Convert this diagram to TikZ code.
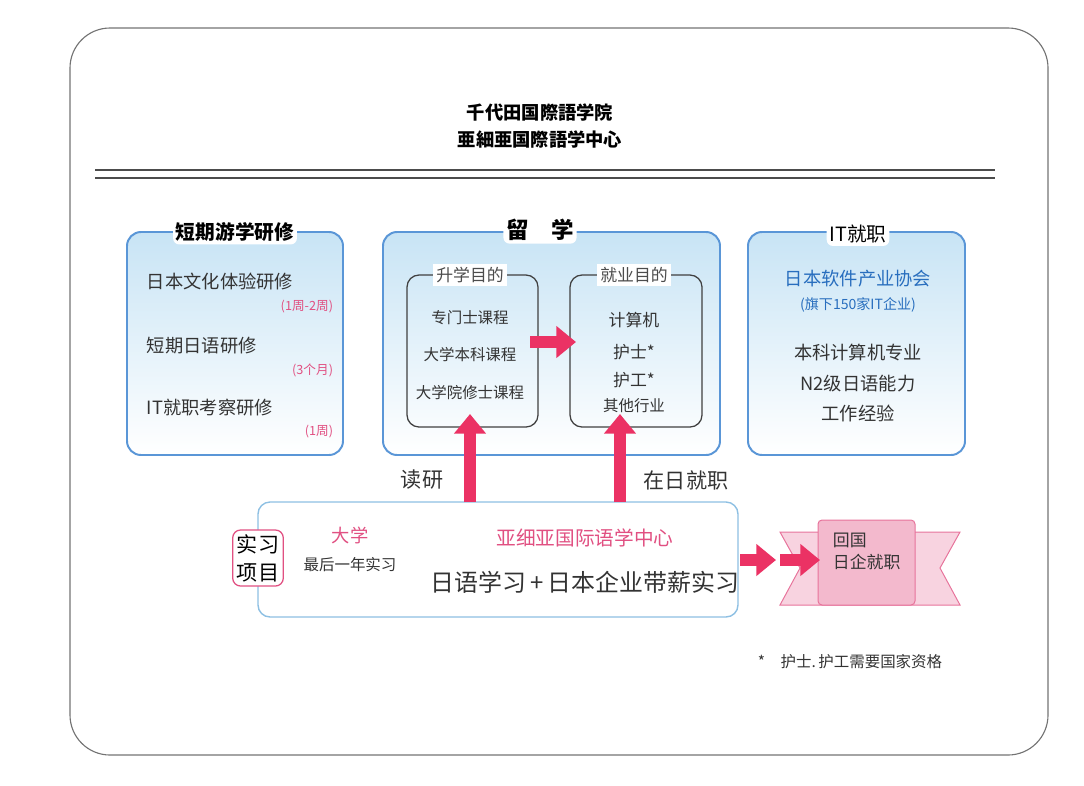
\documentclass[tikz,border=0pt]{standalone}
\usepackage{fontspec}
\setmainfont{Noto Sans CJK SC}
\newfontfamily\jp{Noto Sans CJK JP}
\usetikzlibrary{positioning,arrows.meta}
\definecolor{frameBlue}{RGB}{90,150,215}
\definecolor{fillBlue}{RGB}{200,228,245}
\definecolor{arrowPink}{RGB}{235,50,100}
\definecolor{textPink}{RGB}{225,80,130}
\definecolor{textBlue}{RGB}{40,110,190}
\tikzset{
  bigBox/.style = {draw=frameBlue, line width=1.4pt, rounded corners=.35cm, top color=fillBlue, bottom color=white, middle color=fillBlue!50},
  innerBox/.style = {draw=black!75, line width=.9pt, rounded corners=.3cm},
  boxTitle/.style = {fill=white, rounded corners=.15cm, inner sep=2pt, font=\fontsize{14}{16}\selectfont\bfseries},
  innerTitle/.style = {fill=white, inner sep=2pt, font=\fontsize{12}{14}\selectfont, text=black!70},
  item/.style = {font=\fontsize{13}{15}\selectfont, text=black!80},
  smallItem/.style = {font=\fontsize{11}{13}\selectfont, text=black!80},
  note/.style = {font=\fontsize{9}{11}\selectfont, text=textPink},
  fatArrow/.style = {draw=arrowPink, line width=9pt, -{Triangle[length=14pt, width=22pt]}}
}
\begin{document}
\begin{tikzpicture}[x=0.025cm, y=-0.025cm]
  \useasboundingbox (0,0) rectangle (1084,785);
  % frame and title
  \draw [black!55, rounded corners=1cm, line width=.8pt] (70,28) rectangle (1048,755);
  \node (title1) [font=\jp\fontsize{13}{15}\selectfont\bfseries] at (540,112) {千代田国際語学院};
  \node (title2) [font=\jp\fontsize{13}{15}\selectfont\bfseries] at (540,139) {亜細亜国際語学中心};
  \draw [black!70, line width=.8pt] (95,170) -- (995,170);
  \draw [black!70, line width=.8pt] (95,178) -- (995,178);

  % short term box
  \draw [bigBox] (127,232) rectangle (343,455);
  \node (shortTitle) [boxTitle] at (235,232) {短期游学研修};
  \node (short1) [item, anchor=west] at (142,282) {日本文化体验研修};
  \node (short1n) [note, anchor=east] at (338,307) {(1周-2周)};
  \node (short2) [item, anchor=west] at (142,346) {短期日语研修};
  \node (short2n) [note, anchor=east] at (338,370) {(3个月)};
  \node (short3) [item, anchor=west] at (142,408) {IT就职考察研修};
  \node (short3n) [note, anchor=east] at (338,432) {(1周)};

  % study box
  \draw [bigBox] (383,232) rectangle (720,455);
  \node (studyTitle) [boxTitle, font=\fontsize{16}{18}\selectfont\bfseries] at (540,230) {留\quad 学};
  \draw [innerBox] (407,275) rectangle (538,427);
  \node (academic) [innerTitle] at (470,275) {升学目的};
  \node (academic1) [smallItem] at (470,318) {专门士课程};
  \node (academic2) [smallItem] at (470,355) {大学本科课程};
  \node (academic3) [smallItem] at (470,393) {大学院修士课程};
  \draw [innerBox] (570,275) rectangle (702,427);
  \node (career) [innerTitle] at (634,275) {就业目的};
  \node (career1) [smallItem, font=\fontsize{12}{14}\selectfont] at (634,320) {计算机};
  \node (career2) [smallItem, font=\fontsize{12}{14}\selectfont] at (634,352) {护士*};
  \node (career3) [smallItem, font=\fontsize{12}{14}\selectfont] at (634,380) {护工*};
  \node (career4) [smallItem] at (634,406) {其他行业};
  \coordinate (midArrowA) at (530,342);
  \coordinate (midArrowB) at (576,342);
  \draw [fatArrow] (midArrowA) -- (midArrowB);

  % IT box
  \draw [bigBox] (748,232) rectangle (965,455);
  \node (itTitle) [boxTitle, font=\fontsize{14}{16}\selectfont] at (858,234) {IT就职};
  \node (it1) [item, text=textBlue] at (858,279) {日本软件产业协会};
  \node (it2) [smallItem, font=\fontsize{10}{12}\selectfont, text=textBlue] at (858,305) {(旗下150家IT企业)};
  \node (it3) [item] at (858,353) {本科计算机专业};
  \node (it4) [item] at (858,384) {N2级日语能力};
  \node (it5) [item] at (858,413) {工作经验};

  % training box
  \draw [draw=cyan!40!frameBlue!60, line width=1pt, rounded corners=.3cm, fill=white] (258,502) rectangle (738,617);
  \node (program) [draw=textPink, line width=.9pt, rounded corners=.2cm, fill=white, align=center, inner sep=3pt, font=\fontsize{15}{20}\selectfont] at (258,558) {实习\\项目};
  \node (uni) [font=\fontsize{13}{15}\selectfont, text=textPink] at (350,535) {大学};
  \node (uniNote) [smallItem] at (350,565) {最后一年实习};
  \node (center) [font=\fontsize{14}{16}\selectfont, text=textPink] at (585,538) {亚细亚国际语学中心};
  \node (centerNote) [font=\fontsize{17}{20}\selectfont, text=black!80] at (585,582) {日语学习\,+\,日本企业带薪实习};

  % up arrows
  \coordinate (upA) at (470,502);
  \coordinate (upAend) at (470,414);
  \coordinate (upB) at (620,502);
  \coordinate (upBend) at (620,414);
  \draw [fatArrow] (upA) -- (upAend);
  \draw [fatArrow] (upB) -- (upBend);
  \node (gradLabel) [item, font=\fontsize{15}{17}\selectfont] at (422,480) {读研};
  \node (jobLabel) [item, font=\fontsize{15}{17}\selectfont] at (686,480) {在日就职};

  % banner
  \filldraw [draw=textPink!80, fill=textPink!25, line width=.7pt] (780,532) -- (960,532) -- (940,568) -- (960,605) -- (780,605) -- (800,568) -- cycle;
  \filldraw [draw=textPink!80, fill=textPink!40, line width=.7pt, rounded corners=.1cm] (818,520) rectangle (915,605);
  \node (home) [anchor=north west, align=left, font=\fontsize{12}{16}\selectfont, text=black!80] at (828,528) {回国\\日企就职};
  \coordinate (outA) at (740,560);
  \coordinate (outB) at (776,560);
  \coordinate (outC) at (780,560);
  \coordinate (outD) at (820,560);
  \draw [fatArrow] (outA) -- (outB);
  \draw [fatArrow] (outC) -- (outD);

  % footnote
  \node (footnote) [font=\fontsize{11}{13}\selectfont, text=black!80] at (850,662) {*\quad 护士.\,护工需要国家资格};
\end{tikzpicture}
\end{document}
